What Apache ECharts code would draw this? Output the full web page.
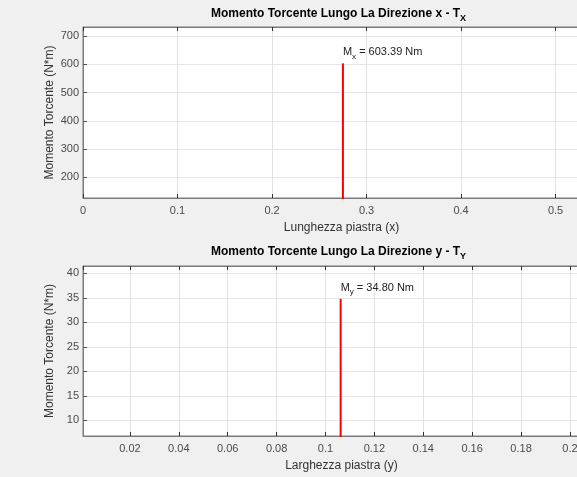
<!DOCTYPE html>
<html>
<head>
<meta charset="utf-8">
<script src="https://cdn.jsdelivr.net/npm/echarts@6/dist/echarts.min.js"></script>
<style>
    html, body { margin: 0; padding: 0; background: #f0f0f0; }
    #chart { width: 577px; height: 477px; }
</style>
</head>
<body>
<div id="chart"></div>
<script type="text/javascript">

    // dati
    var titles = ['Momento Torcente Lungo La Direzione x - T', 'Momento Torcente Lungo La Direzione y - T'];
    var titleSub = ['X', 'Y'];
    var xNames = ['Lunghezza piastra (x)', 'Larghezza piastra (y)'];
    var yName = 'Momento Torcente (N*m)';
    var stemX = [0.275, 0.1062];
    var stemBase = [0, 0];
    var stemValue = [603.39, 34.80];
    var stemSub = ['x', 'y'];
    var xMin = [0, 0.0008];
    var xMax = [0.547, 0.2123];
    var yMin = [127, 6.8];
    var yMax = [732, 41.5];
    var xSplit = [5, 10];
    var ySplit = [6, 7];

    var font = 'Liberation Sans, Arial, sans-serif';
    var gridTop = [27, 266];
    var gridHeight = [171, 170];
    var titleTop = [5, 243];

    var myChart = echarts.init(document.getElementById('chart'), null, {renderer: 'canvas'});

    var option = {
        backgroundColor: '#f0f0f0',
        animation: false,
        title: [],
        grid: [],
        xAxis: [],
        yAxis: [],
        series: []
    };

    for (var i = 0; i < 2; i++) {
        option.title.push({
            text: '{t|' + titles[i] + '}{s|' + titleSub[i] + '}',
            left: 211,
            top: titleTop[i],
            padding: 0,
            textStyle: {
                rich: {
                    t: {fontFamily: font, fontSize: 12, fontWeight: 'bold', color: '#000', lineHeight: 18},
                    s: {fontFamily: font, fontSize: 9, fontWeight: 'bold', color: '#000', lineHeight: 18, verticalAlign: 'bottom'}
                }
            }
        });
        // la griglia esce oltre il bordo destro della finestra
        option.grid.push({
            left: 83,
            width: 517,
            top: gridTop[i],
            height: gridHeight[i],
            containLabel: false,
            outerBoundsMode: 'none',
            show: true,
            backgroundColor: '#ffffff',
            borderColor: '#7a7a7a',
            borderWidth: 1
        });
        option.xAxis.push({
            type: 'value',
            gridIndex: i,
            min: xMin[i],
            max: xMax[i],
            splitNumber: xSplit[i],
            name: xNames[i],
            nameLocation: 'middle',
            nameGap: 24,
            nameMoveOverlap: false,
            nameTextStyle: {fontFamily: font, fontSize: 12, color: '#333'},
            axisLine: {show: true, lineStyle: {color: '#7a7a7a'}},
            axisTick: {show: true, inside: true, length: 4, lineStyle: {color: '#333'}},
            axisLabel: {fontFamily: font, fontSize: 11, color: '#4a4a4a', margin: 7,
                showMinLabel: i === 0, showMaxLabel: false},
            splitLine: {show: true, lineStyle: {color: '#e3e3e3'}}
        });
        // bordo superiore con tacche
        option.xAxis.push({
            type: 'value',
            gridIndex: i,
            position: 'top',
            min: xMin[i],
            max: xMax[i],
            splitNumber: xSplit[i],
            axisLine: {show: true, lineStyle: {color: '#7a7a7a'}},
            axisTick: {show: true, inside: true, length: 4, lineStyle: {color: '#333'}},
            axisLabel: {show: false},
            splitLine: {show: false}
        });
        option.yAxis.push({
            type: 'value',
            gridIndex: i,
            min: yMin[i],
            max: yMax[i],
            splitNumber: ySplit[i],
            name: yName,
            nameLocation: 'middle',
            nameGap: 27,
            nameMoveOverlap: false,
            nameTextStyle: {fontFamily: font, fontSize: 12, color: '#333'},
            axisLine: {show: true, lineStyle: {color: '#7a7a7a'}},
            axisTick: {show: true, inside: true, length: 4, lineStyle: {color: '#555'}},
            axisLabel: {fontFamily: font, fontSize: 11, color: '#4a4a4a', margin: 4,
                showMinLabel: false, showMaxLabel: false},
            splitLine: {show: true, lineStyle: {color: '#e6e6e6'}}
        });
        option.series.push({
            type: 'line',
            xAxisIndex: i * 2,
            yAxisIndex: i,
            symbolSize: 0,
            showSymbol: true,
            lineStyle: {color: '#ff0000', width: 2},
            itemStyle: {color: '#ff0000'},
            data: [
                {value: [stemX[i], stemBase[i]]},
                {
                    value: [stemX[i], stemValue[i]],
                    label: {
                        show: true,
                        position: 'top',
                        align: 'left',
                        distance: 3,
                        formatter: '{m|M}{s|' + stemSub[i] + '}{m| = ' + stemValue[i].toFixed(2) + ' Nm}',
                        rich: {
                            m: {fontFamily: font, fontSize: 11, color: '#222', lineHeight: 16},
                            s: {fontFamily: font, fontSize: 8, color: '#222', lineHeight: 16, verticalAlign: 'bottom'}
                        }
                    }
                }
            ]
        });
    }

    myChart.setOption(option);
    window.onresize = function () {
        myChart.resize();
    };

</script>
</body>
</html>
